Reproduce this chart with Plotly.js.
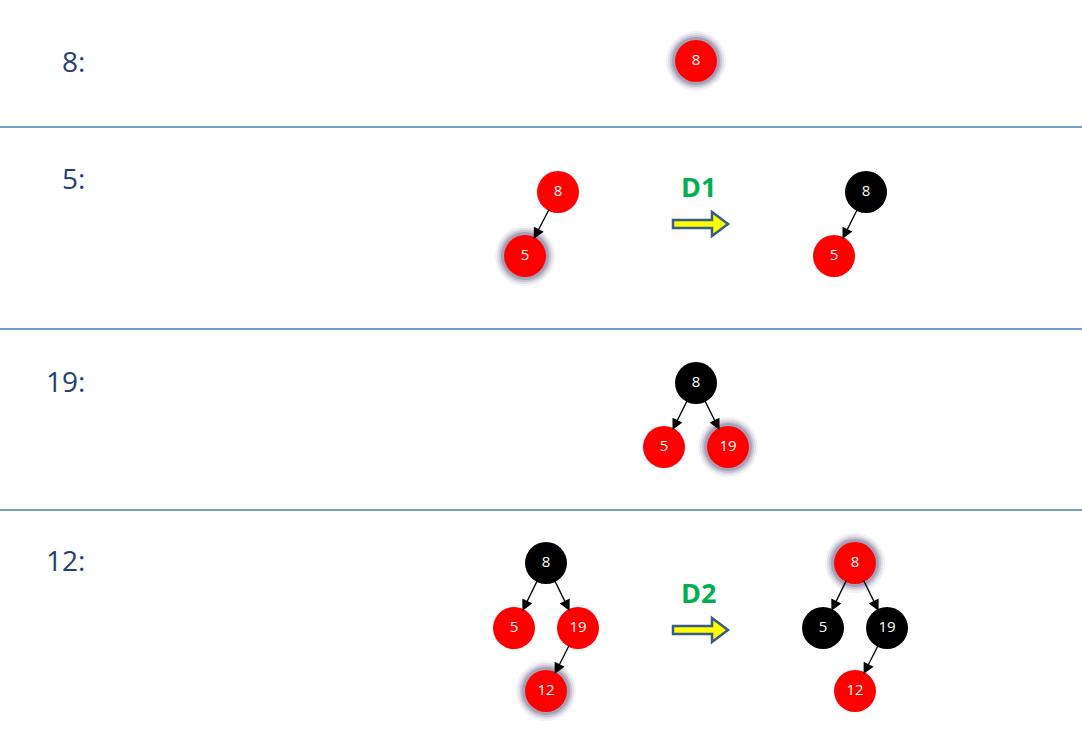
<!DOCTYPE html>
<html><head><meta charset="utf-8">
<script src="https://cdn.plot.ly/plotly-3.0.1.min.js"></script>
<style>html,body{margin:0;padding:0;background:#fff}#g{width:1082px;height:744px}</style>
</head><body><div id="g"></div>
<script>
// nodes: label, x, y, colour, highlighted
const nodeLabels = ['8','8','5','8','5','8','5','19','8','5','19','12','8','5','19','12'];
const nodeX = [696,558,525,866,834,696,664,728,546,514,578,546,855,823,887,855];
const nodeY = [61,192,256,192,256,383,447,447,563,628,628,691,563,628,628,691];
const nodeColor = ['red','red','red','black','red','black','red','red','black','red','red','red','red','black','black','red'];
const nodeGlow = [1,0,1,0,0,0,0,1,0,0,0,1,1,0,0,0];
// edges: parent index -> child index
const edgeFrom = [1,3,5,5,8,8,10,12,12,14];
const edgeTo   = [2,4,6,7,9,10,11,13,14,15];
const rowLabels = ['8:','5:','19:','12:'];
const rowLabelX = [73,73,65,65];
const rowLabelY = [61,178,381,560];
const dividerY = [127,329,510];
const steps = ['D1','D2'];
const stepX = [700,700];
const stepY = [186,592];

const R = 21;
const FONT = 'Open Sans, Liberation Sans, sans-serif';
const gi = nodeGlow.map((g,i)=>g?i:-1).filter(i=>i>=0);
const glowLayers = [[60,0.08],[56,0.12],[52,0.2],[48,0.3]];
const traces = glowLayers.map(([s,a])=>({x:gi.map(i=>nodeX[i]), y:gi.map(i=>nodeY[i]), mode:'markers',
  hoverinfo:'skip', marker:{size:s, color:`rgba(95,85,125,${a})`, line:{width:0}}}));
traces.push({x:nodeX, y:nodeY, mode:'markers+text', text:nodeLabels, hoverinfo:'skip',
  textfont:{color:'#ffffff', size:15, family:FONT},
  marker:{size:2*R, color:nodeColor.map(c=>c==='red'?'#ff0000':'#000000'), line:{width:0}}});

const annotations = [];
edgeFrom.forEach((p,k)=>{
  const c = edgeTo[k];
  const dx = nodeX[c]-nodeX[p], dy = nodeY[c]-nodeY[p];
  const L = Math.hypot(dx,dy);
  const ux = dx/L, uy = dy/L;
  annotations.push({x:nodeX[c]-ux*(R-2), y:nodeY[c]-uy*(R-2), ax:nodeX[p]+ux*(R-3), ay:nodeY[p]+uy*(R-3),
    xref:'x', yref:'y', axref:'x', ayref:'y', text:'', showarrow:true,
    arrowhead:2, arrowsize:1.7, arrowwidth:1.3, arrowcolor:'#000'});
});
rowLabels.forEach((t,i)=>annotations.push({x:rowLabelX[i], y:rowLabelY[i], xref:'x', yref:'y', text:t,
  showarrow:false, font:{size:28, color:'#243f73', family:FONT}}));
steps.forEach((t,i)=>annotations.push({x:stepX[i]-2, y:stepY[i], xref:'x', yref:'y', text:'<b>'+t+'</b>',
  showarrow:false, font:{size:27, color:'#00b050', family:FONT}}));

const shapes = dividerY.map(y=>({type:'line', xref:'x', yref:'y', x0:0, x1:1082, y0:y, y1:y,
  line:{color:'#4a7ebb', width:1.3}}));
steps.forEach((t,i)=>{
  const cx = stepX[i], cy = stepY[i]+38;
  const p = [[cx-27,cy-4],[cx+12,cy-4],[cx+12,cy-12],[cx+28,cy],[cx+12,cy+12],[cx+12,cy+4],[cx-27,cy+4]];
  shapes.push({type:'path', xref:'x', yref:'y', path:'M'+p.map(q=>q.join(',')).join('L')+'Z',
    fillcolor:'#ffff00', line:{color:'#3b5a8a', width:2.5}});
});

Plotly.newPlot('g', traces, {
  width:1082, height:744, margin:{l:0,r:0,t:0,b:0}, showlegend:false,
  paper_bgcolor:'#fff', plot_bgcolor:'#fff',
  xaxis:{range:[0,1082], visible:false, fixedrange:true},
  yaxis:{range:[744,0], visible:false, fixedrange:true},
  annotations, shapes
}, {staticPlot:true});
</script></body></html>
